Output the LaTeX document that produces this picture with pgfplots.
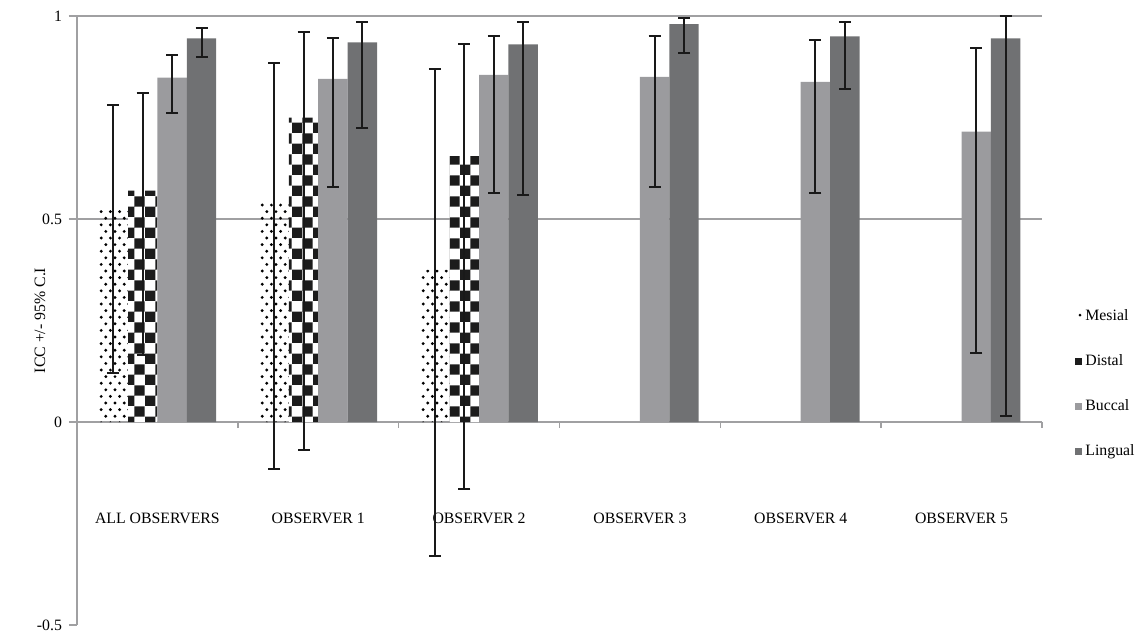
\documentclass[border=0pt]{standalone}
\usepackage{fontspec}
\setmainfont{Liberation Serif}
\usepackage{pgfplots}
\pgfplotsset{compat=1.18}
\usetikzlibrary{patterns}
\definecolor{axisgray}{RGB}{160,160,162}
\definecolor{buccal}{RGB}{155,155,158}
\definecolor{lingual}{RGB}{112,113,115}
\definecolor{checkblack}{RGB}{28,28,28}
\pgfdeclarepatternformonly{bigchecker}{\pgfqpoint{0pt}{0pt}}{\pgfqpoint{10.4pt}{10.4pt}}{\pgfqpoint{10.4pt}{10.4pt}}{%
  \pgfpathrectangle{\pgfqpoint{0pt}{0pt}}{\pgfqpoint{5.2pt}{5.2pt}}%
  \pgfpathrectangle{\pgfqpoint{5.2pt}{5.2pt}}{\pgfqpoint{5.2pt}{5.2pt}}%
  \pgfusepath{fill}}
\pgfdeclarepatternformonly{sparsedots}{\pgfqpoint{-1pt}{-1pt}}{\pgfqpoint{4.6pt}{6.6pt}}{\pgfqpoint{4.6pt}{6.6pt}}{%
  \pgfpathcircle{\pgfqpoint{0pt}{0pt}}{0.8pt}%
  \pgfpathcircle{\pgfqpoint{2.3pt}{3.3pt}}{0.8pt}%
  \pgfusepath{fill}}
\begin{document}
\begin{tikzpicture}
\begin{axis}[
  scale only axis,
  width=482.5pt, height=304.5pt,
  xmin=-0.5, xmax=5.5, ymin=-0.5, ymax=1,
  ybar=0pt, bar width=14.7pt,
  legend image code/.code={\path[#1, draw=none] (0pt,-1.8pt) rectangle (3.6pt,1.8pt);},
  axis x line=middle, axis y line=left,
  axis line style={-, draw=axisgray, line width=0.8pt},
  hide obscured x ticks=false, hide obscured y ticks=false,
  tick align=outside,
  tick style={draw=axisgray, line width=0.8pt},
  major tick length=4pt, minor tick length=3pt,
  xtick={0,1,2,3,4,5},
  xticklabels={ALL OBSERVERS, OBSERVER 1, OBSERVER 2, OBSERVER 3, OBSERVER 4, OBSERVER 5},
  major x tick style={draw=none},
  minor xtick={-0.5,0.5,1.5,2.5,3.5,4.5,5.5},
  xticklabel style={yshift=-38pt},
  ytick={-0.5,0,0.5,1},
  yticklabels={-0.5,0,0.5,1},
  extra y ticks={0.5,1},
  extra y tick labels={},
  extra y tick style={grid=major, major grid style={draw=axisgray, line width=0.8pt}},
  ylabel={ICC +/- 95\% C.I},
  ylabel style={at={(axis description cs:-0.0383,0.5)}, anchor=center},
  font=\fontsize{7.9}{9.5}\selectfont,
  ticklabel style={font=\fontsize{7.9}{9.5}\selectfont},
  legend style={draw=none, fill=none, at={(axis description cs:1.034,0.396)}, anchor=west,
    row sep=12.5pt, font=\fontsize{7.9}{9.5}\selectfont, inner sep=0pt,
    nodes={inner sep=1.5pt}},
  legend cell align=left,
  error bars/error bar style={line width=1pt, black!90},
  error bars/error mark options={rotate=90, mark size=3pt, line width=1pt, black!90},
]
\addplot[draw=none, pattern=sparsedots, pattern color=black,
  legend image code/.code={\fill[black] (2.4pt,0.6pt) circle (0.75pt);},
  error bars/.cd, y dir=both, y explicit] coordinates {
  (0,0.525) += (0,0.255) -= (0,0.405)
  (1,0.54) += (0,0.345) -= (0,0.655)
  (2,0.375) += (0,0.495) -= (0,0.705)
};
\addlegendentry{Mesial}
\addplot[draw=none, preaction={fill=white}, pattern=bigchecker, pattern color=checkblack,
  legend image code/.code={\fill[checkblack] (0pt,-1.8pt) rectangle (3.6pt,1.8pt);},
  error bars/.cd, y dir=both, y explicit] coordinates {
  (0,0.57) += (0,0.24) -= (0,0.405)
  (1,0.75) += (0,0.21) -= (0,0.82)
  (2,0.655) += (0,0.275) -= (0,0.82)
};
\addlegendentry{Distal}
\addplot[draw=none, fill=buccal,
  error bars/.cd, y dir=both, y explicit] coordinates {
  (0,0.848) += (0,0.057) -= (0,0.088)
  (1,0.845) += (0,0.1) -= (0,0.265)
  (2,0.855) += (0,0.095) -= (0,0.29)
  (3,0.85) += (0,0.1) -= (0,0.27)
  (4,0.838) += (0,0.102) -= (0,0.273)
  (5,0.715) += (0,0.205) -= (0,0.545)
};
\addlegendentry{Buccal}
\addplot[draw=none, fill=lingual,
  error bars/.cd, y dir=both, y explicit] coordinates {
  (0,0.945) += (0,0.025) -= (0,0.045)
  (1,0.935) += (0,0.05) -= (0,0.21)
  (2,0.93) += (0,0.055) -= (0,0.37)
  (3,0.98) += (0,0.015) -= (0,0.07)
  (4,0.95) += (0,0.035) -= (0,0.13)
  (5,0.945) += (0,0.055) -= (0,0.93)
};
\addlegendentry{Lingual}
\end{axis}
\pgfresetboundingbox
\path (-38.5pt,-4.5pt) rectangle (531.5pt,312.5pt);
\end{tikzpicture}
\end{document}
